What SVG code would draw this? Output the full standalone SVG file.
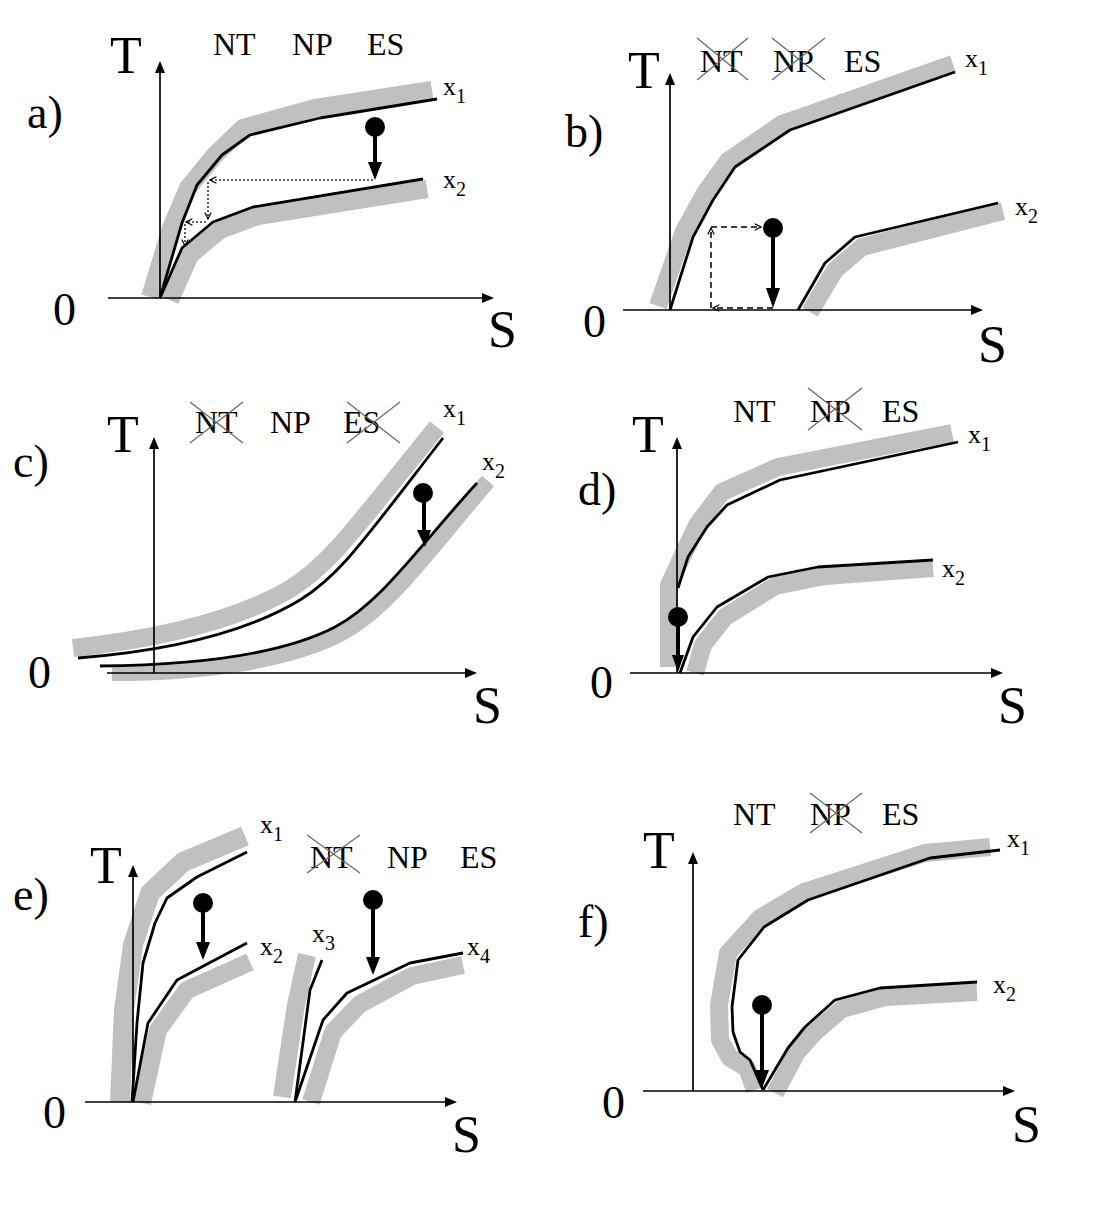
<svg xmlns="http://www.w3.org/2000/svg" width="1099" height="1206" viewBox="0 0 1099 1206" font-family="'Liberation Serif', 'Times New Roman', serif">
<defs>
<style>
.bg{fill:#fff}
.ax{stroke:#000;stroke-width:1.7;fill:none}
.ah{fill:#000}
.gb{stroke:#c0c0c0;stroke-width:18;fill:none;stroke-linejoin:round;stroke-linecap:butt}
.bl{stroke:#000;stroke-width:2.8;fill:none;stroke-linejoin:round}
.sh{stroke:#000;stroke-width:4;fill:none}
.dot{stroke:#333;stroke-width:1.6;stroke-dasharray:2 2;fill:none}
.dash{stroke:#000;stroke-width:1.5;stroke-dasharray:6 4;fill:none}
.cr{stroke:#666;stroke-width:1.2}
text{fill:#000}
.big{font-size:52px}
.lab{font-size:46px}
.st{font-size:32px}
.xl{font-size:26px}
.sub{font-size:20px}
</style>
<marker id="oa" viewBox="0 0 10 10" refX="9" refY="5" markerWidth="8" markerHeight="8" markerUnits="userSpaceOnUse" orient="auto">
<path d="M1,1 L9,5 L1,9" fill="none" stroke="#000" stroke-width="1.5"/>
</marker>
</defs>
<rect class="bg" width="1099" height="1206"/>

<g id="panel-a">
<path class="gb" d="M150,297 L171,228 L188,188 L214,156 L243,128 L315,108 L432,90"/>
<path class="gb" d="M170,300 L190,255 L220,230 L258,216 L427,189"/>
<path class="bl" d="M160,298 L182,223 L197,185 L222,155 L250,135 L320,118 L437,99"/>
<path class="bl" d="M160,298 L182,248 L213,222 L253,207 L423,179"/>
<line class="ax" x1="160" y1="298" x2="160" y2="72"/><polygon class="ah" points="155,73 165,73 160,61"/>
<line class="ax" x1="108" y1="298" x2="483" y2="298"/><polygon class="ah" points="482,293 482,303 494,298"/>
<g class="con">
<line class="dot" x1="373" y1="180" x2="210" y2="180" marker-end="url(#oa)"/>
<line class="dot" x1="208" y1="182" x2="208" y2="219" marker-end="url(#oa)"/>
<line class="dot" x1="206" y1="222" x2="186" y2="222" marker-end="url(#oa)"/>
<line class="dot" x1="185" y1="224" x2="185" y2="246" marker-end="url(#oa)"/>
</g>
<circle cx="375" cy="127" r="10"/><line class="sh" x1="375" y1="127" x2="375" y2="166"/><polygon class="ah" points="368,162 382,162 375,180"/>
<text class="big" x="110" y="73">T</text>
<text class="lab" x="27" y="128">a)</text>
<text class="lab" x="53" y="325">0</text>
<text class="big" x="488" y="347">S</text>
<text class="st" x="213" y="55">NT</text><text class="st" x="292" y="55">NP</text><text class="st" x="367" y="55">ES</text>
<text class="xl" x="443" y="95">x<tspan class="sub" dy="8">1</tspan></text>
<text class="xl" x="443" y="188">x<tspan class="sub" dy="8">2</tspan></text>
</g>

<g id="panel-b">
<path class="gb" d="M658,306 L684,231 L705,193 L728,161 L782,124 L953,64"/>
<path class="gb" d="M810,312 L835,270 L862,247 L1003,211"/>
<path class="bl" d="M670,310 L693,237 L713,200 L735,167 L790,130 L955,72"/>
<path class="bl" d="M798,310 L825,263 L855,237 L998,203"/>
<line class="ax" x1="670" y1="310" x2="670" y2="84"/><polygon class="ah" points="665,85 675,85 670,73"/>
<line class="ax" x1="623" y1="310" x2="972" y2="310"/><polygon class="ah" points="971,305 971,315 983,310"/>
<g class="con">
<line class="dash" x1="773" y1="308" x2="713" y2="308" marker-end="url(#oa)"/>
<line class="dash" x1="711" y1="308" x2="711" y2="228" marker-end="url(#oa)"/>
<line class="dash" x1="711" y1="227" x2="761" y2="227" marker-end="url(#oa)"/>
</g>
<circle cx="773" cy="228" r="10"/><line class="sh" x1="773" y1="228" x2="773" y2="292"/><polygon class="ah" points="766,288 780,288 773,308"/>
<text class="big" x="628" y="88">T</text>
<text class="lab" x="565" y="147">b)</text>
<text class="lab" x="583" y="337">0</text>
<text class="big" x="978" y="362">S</text>
<text class="st" x="700" y="72">NT</text><text class="st" x="773" y="72">NP</text><text class="st" x="844" y="72">ES</text>
<line class="cr" x1="697" y1="38" x2="748" y2="80"/><line class="cr" x1="748" y1="38" x2="697" y2="80"/>
<line class="cr" x1="772" y1="38" x2="825" y2="80"/><line class="cr" x1="825" y1="38" x2="772" y2="80"/>
<text class="xl" x="965" y="67">x<tspan class="sub" dy="8">1</tspan></text>
<text class="xl" x="1015" y="215">x<tspan class="sub" dy="8">2</tspan></text>
</g>

<g id="panel-c">
<path class="gb" d="M73,648 C175,637 242,617 290,589 C330,564 352,532 437,427"/>
<path class="gb" style="stroke-width:16" d="M112,673 C205,673 290,660 340,634 C388,609 427,552 488,481"/>
<path class="bl" d="M78,658 C180,650 250,630 300,600 C340,575 360,545 443,438"/>
<path class="bl" d="M100,666 C200,665 285,653 335,627 C382,602 420,545 477,483"/>
<line class="ax" x1="154" y1="673" x2="154" y2="448"/><polygon class="ah" points="149,449 159,449 154,437"/>
<line class="ax" x1="107" y1="673" x2="466" y2="673"/><polygon class="ah" points="465,668 465,678 477,673"/>
<circle cx="423" cy="493" r="10"/><line class="sh" x1="424" y1="493" x2="424" y2="533"/><polygon class="ah" points="417,530 431,530 425,547"/>
<text class="big" x="107" y="452">T</text>
<text class="lab" x="13" y="477">c)</text>
<text class="lab" x="28" y="688">0</text>
<text class="big" x="473" y="723">S</text>
<text class="st" x="195" y="433">NT</text><text class="st" x="270" y="433">NP</text><text class="st" x="343" y="433">ES</text>
<line class="cr" x1="190" y1="402" x2="243" y2="443"/><line class="cr" x1="243" y1="402" x2="190" y2="443"/>
<line class="cr" x1="347" y1="402" x2="400" y2="443"/><line class="cr" x1="400" y1="402" x2="347" y2="443"/>
<text class="xl" x="443" y="417">x<tspan class="sub" dy="8">1</tspan></text>
<text class="xl" x="482" y="470">x<tspan class="sub" dy="8">2</tspan></text>
</g>

<g id="panel-d">
<path class="gb" d="M669,667 L669,585 L697,525 L722,492 L778,467 L952,433"/>
<path class="gb" d="M695,673 L703,645 L725,617 L775,586 L825,576 L933,568"/>
<path class="bl" d="M678,588 L688,557 L707,527 L727,505 L780,480 L958,442"/>
<path class="bl" d="M680,673 L693,637 L717,607 L768,577 L818,567 L933,560"/>
<line class="ax" x1="677" y1="673" x2="677" y2="448"/><polygon class="ah" points="672,449 682,449 677,437"/>
<line class="ax" x1="630" y1="673" x2="992" y2="673"/><polygon class="ah" points="991,668 991,678 1003,673"/>
<circle cx="678" cy="617" r="10"/><line class="sh" x1="678" y1="617" x2="678" y2="658"/><polygon class="ah" points="672,655 684,655 678,672"/>
<text class="big" x="632" y="452">T</text>
<text class="lab" x="578" y="505">d)</text>
<text class="lab" x="590" y="698">0</text>
<text class="big" x="998" y="723">S</text>
<text class="st" x="733" y="422">NT</text><text class="st" x="810" y="422">NP</text><text class="st" x="882" y="422">ES</text>
<line class="cr" x1="808" y1="388" x2="862" y2="430"/><line class="cr" x1="862" y1="388" x2="808" y2="430"/>
<text class="xl" x="968" y="443">x<tspan class="sub" dy="8">1</tspan></text>
<text class="xl" x="942" y="577">x<tspan class="sub" dy="8">2</tspan></text>
</g>

<g id="panel-e">
<path class="gb" style="stroke-width:20" d="M120,1102 L124,1010 L133,945 L150,893 L183,862 L245,836"/>
<path class="gb" d="M142,1103 L158,1030 L187,990 L250,962"/>
<path class="gb" d="M282,1097 L296,1005 L307,955"/>
<path class="gb" d="M311,1102 L333,1032 L360,1004 L412,976 L463,965"/>
<path class="bl" d="M132,1102 L137,1023 L143,963 L155,923 L167,898 L197,877 L247,852"/>
<path class="bl" d="M133,1102 L148,1023 L177,980 L247,943"/>
<path class="bl" d="M295,1102 L310,990 L322,960"/>
<path class="bl" d="M295,1102 L323,1020 L347,993 L410,963 L463,953"/>
<line class="ax" x1="133" y1="1102" x2="133" y2="876"/><polygon class="ah" points="128,877 138,877 133,865"/>
<line class="ax" x1="85" y1="1102" x2="446" y2="1102"/><polygon class="ah" points="445,1097 445,1107 457,1102"/>
<circle cx="203" cy="903" r="10"/><line class="sh" x1="203" y1="903" x2="203" y2="945"/><polygon class="ah" points="196,942 210,942 203,960"/>
<circle cx="373" cy="900" r="10"/><line class="sh" x1="373" y1="900" x2="373" y2="960"/><polygon class="ah" points="366,957 380,957 373,975"/>
<text class="big" x="90" y="883">T</text>
<text class="lab" x="13" y="910">e)</text>
<text class="lab" x="43" y="1128">0</text>
<text class="big" x="452" y="1152">S</text>
<text class="st" x="310" y="868">NT</text><text class="st" x="387" y="868">NP</text><text class="st" x="460" y="868">ES</text>
<line class="cr" x1="307" y1="835" x2="360" y2="873"/><line class="cr" x1="360" y1="835" x2="307" y2="873"/>
<text class="xl" x="260" y="833">x<tspan class="sub" dy="8">1</tspan></text>
<text class="xl" x="260" y="955">x<tspan class="sub" dy="8">2</tspan></text>
<text class="xl" x="312" y="942">x<tspan class="sub" dy="8">3</tspan></text>
<text class="xl" x="467" y="955">x<tspan class="sub" dy="8">4</tspan></text>
</g>

<g id="panel-f">
<path class="gb" d="M755,1090 L747,1068 L730,1058 L720,1040 L719,1005 L728,953 L760,918 L804,892 L925,853 L990,847"/>
<path class="gb" d="M775,1093 L797,1052 L815,1032 L842,1009 L885,997 L977,992"/>
<path class="bl" d="M763,1090 L750,1060 L740,1052 L733,1032 L732,1007 L738,960 L764,927 L808,900 L930,858 L1000,850"/>
<path class="bl" d="M763,1090 L788,1048 L805,1027 L835,1000 L880,988 L977,982"/>
<line class="ax" x1="693" y1="1091" x2="693" y2="863"/><polygon class="ah" points="688,864 698,864 693,852"/>
<line class="ax" x1="643" y1="1091" x2="1004" y2="1091"/><polygon class="ah" points="1003,1086 1003,1096 1015,1091"/>
<circle cx="762" cy="1005" r="10"/><line class="sh" x1="762" y1="1005" x2="762" y2="1073"/><polygon class="ah" points="755,1070 769,1070 762,1088"/>
<text class="big" x="643" y="868">T</text>
<text class="lab" x="578" y="937">f)</text>
<text class="lab" x="602" y="1118">0</text>
<text class="big" x="1012" y="1142">S</text>
<text class="st" x="733" y="825">NT</text><text class="st" x="810" y="825">NP</text><text class="st" x="882" y="825">ES</text>
<line class="cr" x1="810" y1="793" x2="862" y2="833"/><line class="cr" x1="862" y1="793" x2="810" y2="833"/>
<text class="xl" x="1007" y="847">x<tspan class="sub" dy="8">1</tspan></text>
<text class="xl" x="993" y="993">x<tspan class="sub" dy="8">2</tspan></text>
</g>
</svg>
